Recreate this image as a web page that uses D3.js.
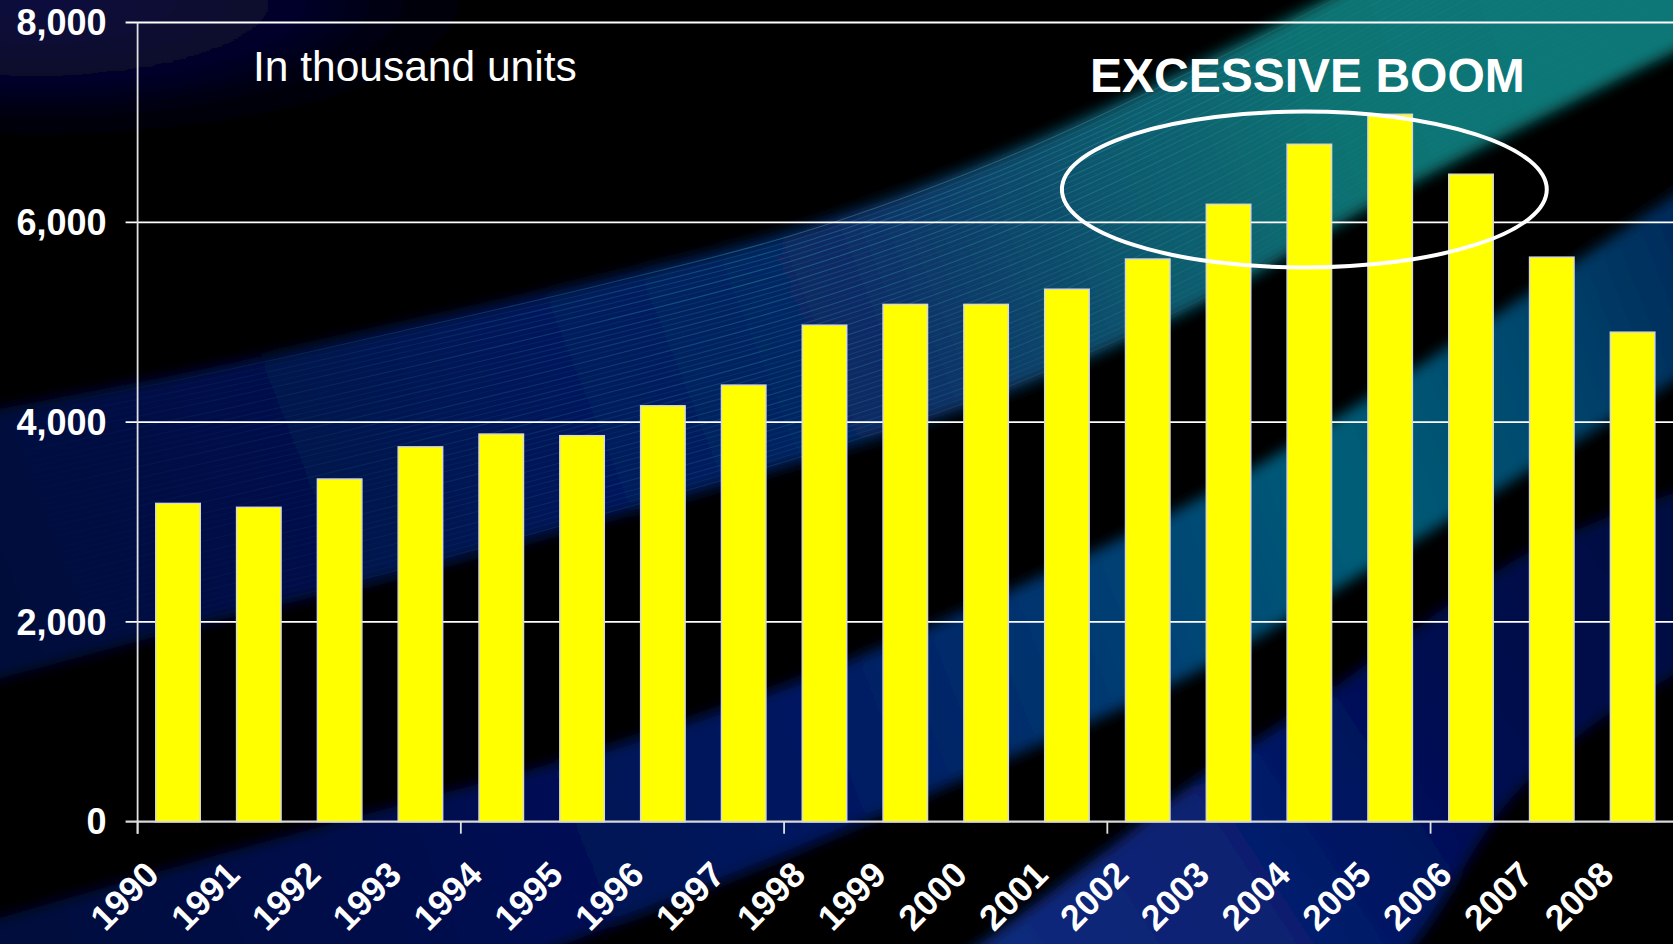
<!DOCTYPE html>
<html>
<head>
<meta charset="utf-8">
<script src="https://cdn.jsdelivr.net/npm/d3@7"></script>
<style>
  html, body { margin: 0; padding: 0; background: #000; overflow: hidden; }
  svg { display: block; }
</style>
</head>
<body>
<svg id="chart" width="1673" height="944"></svg>
<script>
// ---- data ----
const years = ["1990","1991","1992","1993","1994","1995","1996","1997","1998","1999",
               "2000","2001","2002","2003","2004","2005","2006","2007","2008"];
const units = [3186, 3147, 3430, 3752, 3880, 3864, 4163, 4370, 4970, 5178,
               5178, 5330, 5632, 6180, 6781, 7081, 6481, 5651, 4900];
const yTickValues = [0, 2000, 4000, 6000, 8000];
const xTickYears = ["1990", "1994", "1998", "2002", "2006"];
const unitNote = "In thousand units";
const boomLabel = "EXCESSIVE BOOM";
const boomCenterYear = "2004";
const boomCenterValue = 6328;
const boomHalfHeight = 781;

// ---- layout ----
const W = 1673, H = 944;
const plotL = 137.6, plotR = 1673, plotT = 22.5, plotB = 821.7;
const svg = d3.select("#chart");
const defs = svg.append("defs");

const x = d3.scaleBand().domain(years).range([plotL, plotR]).paddingInner(0.45).paddingOuter(0.225);
const y = d3.scaleLinear().domain([0, 8000]).range([plotB, plotT]);
const step = x.step();

// ---- background ----
svg.append("rect").attr("width", W).attr("height", H).attr("fill", "#000");

const blur = defs.append("filter").attr("id", "soft").attr("x", "-10%").attr("y", "-10%").attr("width", "120%").attr("height", "120%");
blur.append("feGaussianBlur").attr("stdDeviation", 7);

function lin(id, x1, y1, x2, y2, stops) {
  const g = defs.append("linearGradient").attr("id", id).attr("gradientUnits", "userSpaceOnUse")
    .attr("x1", x1).attr("y1", y1).attr("x2", x2).attr("y2", y2);
  stops.forEach(s => g.append("stop").attr("offset", s[0]).attr("stop-color", s[1]).attr("stop-opacity", s[2] == null ? 1 : s[2]));
}
lin("gA", 0, 620, 1560, 0, [[0, "#020a3a"], [0.35, "#04175a"], [0.55, "#072c66"], [0.72, "#0a5a6e"], [0.85, "#0c7272"], [1, "#0d7777"]]);
lin("gB1", 0, 900, 1673, 250, [[0, "#00073c"], [0.45, "#021660"], [0.62, "#063a72"], [0.78, "#065e78"], [0.9, "#04486e"], [1, "#032c5c"]]);
lin("gB2", 1000, 944, 1673, 500, [[0, "#0a2a7c"], [0.3, "#072070"], [0.6, "#010c52"], [1, "#000740"]]);
lin("gStreak", 0, 0, 1673, 0, [[0, "#2aa0a8", 0], [0.2, "#2aa0a8", 0.18], [0.45, "#3ab2b0", 0.5], [0.65, "#3ab2b0", 0.45], [0.8, "#3ab2b0", 0.15], [1, "#3ab2b0", 0.05]]);
const rg = defs.append("radialGradient").attr("id", "gTL").attr("gradientUnits", "userSpaceOnUse")
  .attr("cx", 40).attr("cy", 0).attr("r", 520).attr("gradientTransform", "translate(40,0) scale(1,0.32) translate(-40,0)");
rg.append("stop").attr("offset", 0).attr("stop-color", "#0a0a3e");
rg.append("stop").attr("offset", 0.5).attr("stop-color", "#06062a");
rg.append("stop").attr("offset", 1).attr("stop-color", "#000000").attr("stop-opacity", 0);

const bx = [-60, 200, 400, 600, 800, 1000, 1200, 1400, 1740];
const UA = [420, 370, 326, 280, 228, 155, 62, -40, -230];
const LA = [695, 625, 575, 520, 462, 395, 305, 190, 20];
const UB1 = [935, 860, 805, 750, 680, 595, 498, 378, 150];
const LB1 = [1180, 1080, 1010, 930, 850, 762, 670, 550, 340];
const b2x = [900, 1000, 1100, 1200, 1300, 1400, 1510, 1600, 1740];
const UB2 = [1000, 930, 855, 778, 712, 640, 563, 520, 470];
const LB2 = [1300, 1250, 1180, 1100, 1030, 960, 800, 720, 640];

const curve = d3.line().curve(d3.curveCatmullRom);
function band(xs, up, lo) {
  const a = curve(xs.map((v, i) => [v, up[i]]));
  const b = curve(xs.map((v, i) => [v, lo[i]]).reverse());
  return a + "L" + b.slice(1) + "Z";
}
const bg = svg.append("g").attr("filter", "url(#soft)");
bg.append("rect").attr("x", -40).attr("y", -40).attr("width", 760).attr("height", 340).attr("fill", "url(#gTL)");
bg.append("path").attr("d", band(bx, UA, LA)).attr("fill", "url(#gA)");
bg.append("path").attr("d", band(bx, UB1, LB1)).attr("fill", "url(#gB1)");
bg.append("path").attr("d", band(b2x, UB2, LB2)).attr("fill", "url(#gB2)");

// streak texture inside the upper band
defs.append("clipPath").attr("id", "clipA").append("path").attr("d", band(bx, UA, LA));
const streaks = svg.append("g").attr("clip-path", "url(#clipA)");
const nStreak = 46;
for (let i = 1; i < nStreak; i++) {
  const t = i / nStreak;
  const pts = bx.map((v, k) => [v, UA[k] + t * (LA[k] - UA[k])]);
  const op = (0.25 + 0.55 * Math.pow(Math.sin(i * 1.37), 2)) * (1 - 0.6 * t);
  streaks.append("path").attr("d", curve(pts)).attr("fill", "none")
    .attr("stroke", "url(#gStreak)").attr("stroke-width", 1.1).attr("opacity", op);
}

// ---- gridlines & y axis ----
const tickLen = 12;
svg.append("g").selectAll("line").data(yTickValues).join("line")
  .attr("x1", plotL - tickLen).attr("x2", plotR)
  .attr("y1", d => y(d)).attr("y2", d => y(d))
  .attr("stroke", d => d === 0 ? "#d8d8d8" : "#ffffff").attr("stroke-width", d => d === 0 ? 2.2 : 1.8);

svg.append("line").attr("x1", plotL).attr("x2", plotL).attr("y1", plotT).attr("y2", plotB + tickLen)
  .attr("stroke", "#e0e0e0").attr("stroke-width", 1.8);

svg.append("g").selectAll("text").data(yTickValues).join("text")
  .attr("x", plotL - 31).attr("y", d => y(d)).attr("dy", "0.35em")
  .attr("text-anchor", "end").attr("fill", "#fff")
  .attr("font-family", "'Liberation Sans', Arial, sans-serif").attr("font-weight", "bold").attr("font-size", 36)
  .text(d => d3.format(",")(d));

// ---- bars ----
svg.append("g").selectAll("rect").data(years).join("rect")
  .attr("x", d => x(d)).attr("width", x.bandwidth())
  .attr("y", (d, i) => y(units[i])).attr("height", (d, i) => y(0) - y(units[i]))
  .attr("fill", "#ffff00").attr("stroke", "#d8d8d8").attr("stroke-width", 1.5);

// ---- x axis ticks ----
const boundary = d => x(d) - step * x.paddingInner() / 2;
svg.append("g").selectAll("line").data(xTickYears).join("line")
  .attr("x1", d => boundary(d)).attr("x2", d => boundary(d))
  .attr("y1", plotB).attr("y2", plotB + tickLen)
  .attr("stroke", "#e0e0e0").attr("stroke-width", 1.8);

svg.append("g").selectAll("text").data(years).join("text")
  .attr("transform", d => `translate(${x(d) + x.bandwidth() / 2 - 17},${plotB + 55}) rotate(-45)`)
  .attr("text-anchor", "end").attr("fill", "#fff")
  .attr("font-family", "'Liberation Sans', Arial, sans-serif").attr("font-weight", "bold").attr("font-size", 35.5)
  .text(d => d);

// ---- annotations ----
svg.append("text").attr("x", 253).attr("y", 81).attr("fill", "#fff")
  .attr("font-family", "'Liberation Sans', Arial, sans-serif").attr("font-size", 42.5)
  .text(unitNote);

const ecx = x(boomCenterYear) + x.bandwidth() / 2 - 5;
svg.append("ellipse")
  .attr("cx", ecx).attr("cy", y(boomCenterValue))
  .attr("rx", step * 3).attr("ry", y(boomCenterValue - boomHalfHeight) - y(boomCenterValue))
  .attr("fill", "none").attr("stroke", "#fff").attr("stroke-width", 4);

svg.append("text").attr("x", ecx + 3).attr("y", 92).attr("text-anchor", "middle").attr("fill", "#fff")
  .attr("font-family", "'Liberation Sans', Arial, sans-serif").attr("font-weight", "bold").attr("font-size", 48)
  .text(boomLabel);
</script>
</body>
</html>
